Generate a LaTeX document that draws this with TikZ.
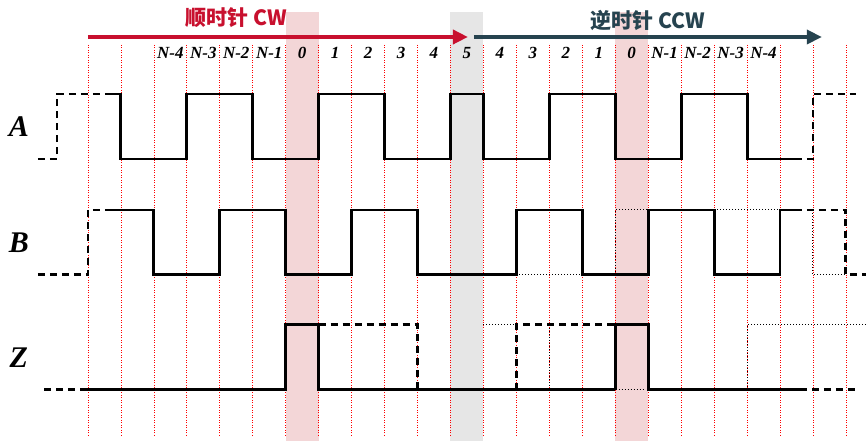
\documentclass[tikz,border=0pt]{standalone}
\usepackage{fontspec}
\setmainfont{Liberation Serif}
\newfontfamily\cjk{Noto Sans CJK SC}
\usepackage{tikz}
\usepackage{xcolor}
\usetikzlibrary{arrows.meta}

\definecolor{cwred}{RGB}{200,16,46}
\definecolor{ccwslate}{RGB}{38,67,79}
\definecolor{zeropink}{RGB}{243,214,215}
\definecolor{turngray}{RGB}{230,230,230}

\begin{document}
\begin{tikzpicture}[x=32.96pt, y=-1pt,
        wave/.style={line width=2.9pt, line join=miter},
        wavedash/.style={line width=2.9pt, dash pattern=on 7pt off 5pt},
        wavedot/.style={line width=1pt, dotted},
        tickline/.style={red, line width=0.7pt, dash pattern=on 1pt off 1.5pt},
        ticklabel/.style={font=\fontsize{17}{17}\selectfont\bfseries\itshape},
        siglabel/.style={font=\fontsize{30}{30}\selectfont\bfseries\itshape},
        titlelabel/.style={font=\cjk\fontsize{21}{21}\selectfont\bfseries}]
            \useasboundingbox (-2.67,0) rectangle (23.61,441);

            \fill[zeropink] (6,12) rectangle (7,441);
            \fill[zeropink] (16,12) rectangle (17,441);
            \fill[turngray] (11,12) rectangle (12,441);
            \foreach \i in {0,...,23}
                \draw[tickline] (\i,45) -- (\i,437);

            \foreach \lab [count=\c from 2] in {N-4,N-3,N-2,N-1,0,1,2,3,4,5,4,3,2,1,0,N-1,N-2,N-3,N-4}
                \node[ticklabel] (tick\c) at (\c+0.5,53) {\lab};

            \coordinate (cwstart) at (0,37);
            \coordinate (cwend) at (11.53,37);
            \coordinate (ccwstart) at (11.71,37);
            \coordinate (ccwend) at (22.27,37);
            \draw[cwred, line width=3.6pt, -{Triangle[length=15pt,width=14pt]}] (cwstart) -- (cwend);
            \draw[ccwslate, line width=3.6pt, -{Triangle[length=15pt,width=14pt]}] (ccwstart) -- (ccwend);
            \node[titlelabel, text=cwred] (cwtitle) at (4.5,18) {顺时针 CW};
            \node[titlelabel, text=ccwslate] (ccwtitle) at (16.99,20) {逆时针 CCW};

            \node[siglabel] (sigA) at (-2.1,126.5) {A};
            \node[siglabel] (sigB) at (-2.1,242.5) {B};
            \node[siglabel] (sigZ) at (-2.1,357.5) {Z};

            \draw[wavedash] (-1.52,159) -- (-0.94,159) -- (-0.94,94) -- (0.52,94);
            \draw[wave] (0.52,94) -- (1,94) -- (1,159) -- (3,159) -- (3,94) -- (5,94) -- (5,159) -- (7,159) -- (7,94) -- (9,94) -- (9,159) -- (11,159) -- (11,94) -- (12,94) -- (12,159) -- (14,159) -- (14,94) -- (16,94) -- (16,159) -- (18,159) -- (18,94) -- (20,94) -- (20,159) -- (21.45,159);
            \draw[wavedash] (21.45,159) -- (22,159) -- (22,94) -- (23.3,94);

            \draw[wavedot] (13,275) -- (15,275);
            \draw[wavedot] (16,275) -- (16,210) -- (17,210);
            \draw[wavedot] (19,210) -- (21,210);
            \draw[wavedot] (22,210) -- (22,275) -- (23,275);
            \draw[wavedash] (-1.52,275) -- (0,275) -- (0,210) -- (0.52,210);
            \draw[wave] (0.52,210) -- (2,210) -- (2,275) -- (4,275) -- (4,210) -- (6,210) -- (6,275) -- (8,275) -- (8,210) -- (10,210) -- (10,275) -- (13,275) -- (13,210) -- (15,210) -- (15,275) -- (17,275) -- (17,210) -- (19,210) -- (19,275) -- (21,275) -- (21,210) -- (21.45,210);
            \draw[wavedash] (21.45,210) -- (23,210) -- (23,275) -- (23.61,275);

            \draw[wavedot] (12,325) -- (13,325);
            \draw[wavedot] (14,325) -- (14,390);
            \draw[wavedot] (16.1,390) -- (16.9,390);
            \draw[wavedot] (20,390) -- (20,325) -- (23.61,325);
            \draw[wavedash] (-1.33,390) -- (-0.09,390);
            \draw[wave] (-0.09,390) -- (6,390) -- (6,325) -- (7,325) -- (7,390) -- (16,390);
            \draw[wave] (16,390) -- (16,325) -- (17,325) -- (17,390) -- (21.6,390);
            \draw[wavedash] (21.6,390) -- (23.3,390);
            \draw[wavedash] (7,325) -- (10,325) -- (10,390);
            \draw[wavedash] (13,390) -- (13,325) -- (16,325);
        \end{tikzpicture}
\end{document}
